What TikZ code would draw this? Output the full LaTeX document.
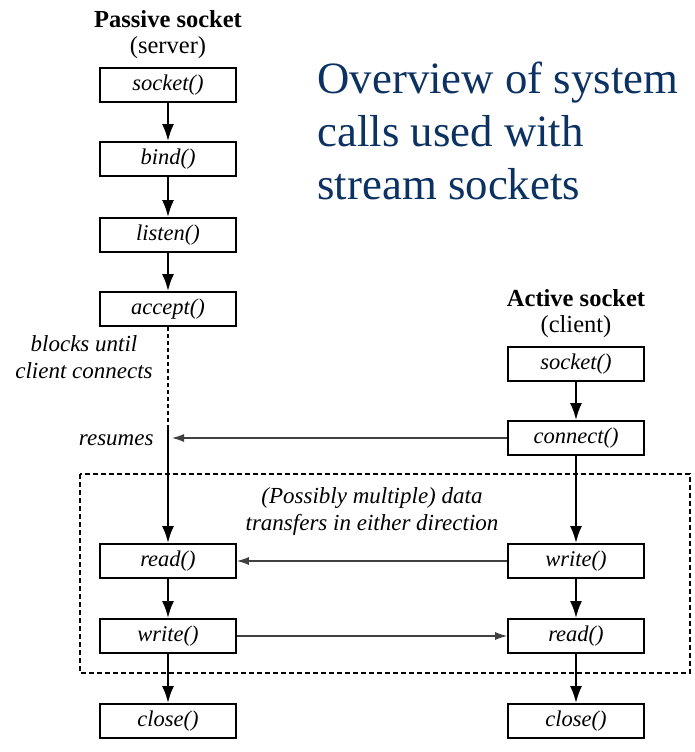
\documentclass[tikz,border=0pt]{standalone}
\usepackage{fontspec}
\setmainfont{Liberation Serif}
\usetikzlibrary{arrows.meta}
\definecolor{titleblue}{RGB}{12,50,98}

\begin{document}
\begin{tikzpicture}[x=1pt,y=-1pt,
    callbox/.style={draw,line width=1.8pt,minimum width=136pt,minimum height=34pt,
      inner sep=0pt,font=\fontsize{22.5}{24}\selectfont\itshape},
    head/.style={font=\fontsize{24.5}{28}\selectfont,align=center},
    note/.style={font=\fontsize{23}{27}\selectfont\itshape,align=center},
    flow/.style={line width=2.2pt,-{Latex[length=17pt,width=12pt]}},
    msg/.style={line width=1.1pt,black!75,-{Latex[length=12pt,width=8pt]}}]
    \useasboundingbox (0,0) rectangle (694,752);
    % server side
    \node[head] (pas) at (168,19) {\textbf{Passive socket}};
    \node[head] (srv) at (168,48) {(server)};
    \node[callbox] (ssock) at (168,85) {socket()};
    \node[callbox] (sbind) at (168,159) {bind()};
    \node[callbox] (slist) at (168,235) {listen()};
    \node[callbox] (sacc) at (168,309) {accept()};
    \node[callbox] (sread) at (168,561) {read()};
    \node[callbox] (swrite) at (168,636) {write()};
    \node[callbox] (sclose) at (168,721) {close()};
    % client side
    \node[head] (act) at (576,298) {\textbf{Active socket}};
    \node[head] (cli) at (576,327) {(client)};
    \node[callbox] (csock) at (576,364) {socket()};
    \node[callbox] (cconn) at (576,438) {connect()};
    \node[callbox] (cwrite) at (576,561) {write()};
    \node[callbox] (cread) at (576,636) {read()};
    \node[callbox] (cclose) at (576,721) {close()};
    % notes
    \node[note] (blk) at (84,357) {blocks until\\client connects};
    \node[note,anchor=east] (res) at (157,440) {resumes};
    \node[note] (xfer) at (372,511) {(Possibly multiple) data\\transfers in either direction};
    \node[anchor=north west,align=left,text=titleblue,
      font=\fontsize{44.8}{53}\selectfont] (title) at (314,58)
      {Overview of system\\calls used with\\stream sockets};
    \coordinate (wake) at (168,428);
    \coordinate (hit) at (172,438);
    \draw[line width=1.2pt,dash pattern=on 5pt off 3pt] (80,474) rectangle (690,673);
    \draw[flow] (ssock) -- (sbind);
    \draw[flow] (sbind) -- (slist);
    \draw[flow] (slist) -- (sacc);
    \draw[line width=2.2pt,dash pattern=on 4pt off 3pt] (sacc) -- (wake);
    \draw[flow] (wake) -- (sread);
    \draw[flow] (sread) -- (swrite);
    \draw[flow] (swrite) -- (sclose);
    \draw[flow] (csock) -- (cconn);
    \draw[flow] (cconn) -- (cwrite);
    \draw[flow] (cwrite) -- (cread);
    \draw[flow] (cread) -- (cclose);
    \draw[msg] (cconn) -- (hit);
    \draw[msg] (cwrite) -- (sread);
    \draw[msg] (swrite) -- (cread);
\end{tikzpicture}
\end{document}
